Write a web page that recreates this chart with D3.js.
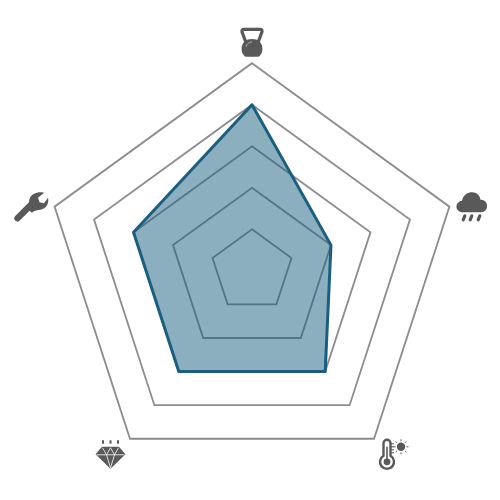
<!DOCTYPE html>
<html><head><meta charset="utf-8">
<style>html,body{margin:0;padding:0;background:#fff}svg{display:block}</style>
<script src="https://cdn.jsdelivr.net/npm/d3@7"></script></head>
<body><svg id="c" width="500" height="500"></svg>
<script>
const categories = ["Strength","Weather","Temperature","Gems","Tools"];
const values = [4,2,3,3,3];
const gridLevels = [1,2,3,4,5];

const svg = d3.select("#c");
const g = svg.append("g").attr("transform","translate(252,270.8)");
const r = d3.scaleLinear().domain([0,5]).range([0,207.6]);
const angle = d3.scaleLinear().domain([0,categories.length]).range([0,2*Math.PI]);
const radar = d3.lineRadial().curve(d3.curveLinearClosed);

g.selectAll("path.grid").data(gridLevels).join("path").attr("class","grid")
  .attr("d",l=>radar(categories.map((c,i)=>[angle(i),r(l)])))
  .attr("fill","none").attr("stroke","#8c8c8c").attr("stroke-width",1.8);

g.append("path").attr("class","area")
  .attr("d",radar(values.map((v,i)=>[angle(i),r(v)])))
  .attr("fill","#1a5f82").attr("fill-opacity",0.5)
  .attr("stroke","#1a5f82").attr("stroke-width",3).attr("stroke-linejoin","round");

const ink="#595959";
const icons = [
 s=>{ // kettlebell
  s.append("path").attr("d","M-6,1 L-10,-10 Q-10.5,-12.5 -8,-12.5 L8,-12.5 Q10.5,-12.5 10,-10 L6,1").attr("fill","none").attr("stroke",ink).attr("stroke-width",3.2);
  s.append("path").attr("d","M-6.5,15 C-12,12 -12,1 -5,-2 C-2,-3.2 2,-3.2 5,-2 C12,1 12,12 6.5,15 Z").attr("fill",ink);
  s.append("path").attr("d","M-6,5 C-5.5,2 -3,0.5 0,0").attr("fill","none").attr("stroke","#b0b0b0").attr("stroke-width",1);
 },
 s=>{ // rain cloud
  s.append("path").attr("d","M-9,5.5 C-17.5,5.5 -17.5,-5 -10,-6 C-9,-12 -4,-14.5 0,-14.5 C5,-14.5 8,-11 8.5,-7 C17,-7.5 17.5,5.5 9,5.5 Z").attr("fill",ink);
  [-8,-1,7].forEach(x=>s.append("path").attr("d",`M${x+.8},9 L${x-.8},13`).attr("stroke",ink).attr("stroke-width",3.2).attr("stroke-linecap","round"));
 },
 s=>{ // thermometer + sun
  s.append("path").attr("d","M-3.5,4 L-3.5,-8.5 A3.5,3.5 0 0 1 3.5,-8.5 L3.5,4 A7,7 0 1 1 -3.5,4 Z").attr("fill","#fff").attr("stroke",ink).attr("stroke-width",2.4);
  s.append("circle").attr("cx",0).attr("cy",10).attr("r",3.4).attr("fill",ink);
  s.append("path").attr("d","M0,10 L0,-5").attr("stroke",ink).attr("stroke-width",1.6);
  [-8,-5,-2,1].forEach(y=>s.append("path").attr("d",`M4,${y} h3`).attr("stroke",ink).attr("stroke-width",1));
  s.append("circle").attr("cx",14).attr("cy",-5).attr("r",4.2).attr("fill",ink);
  d3.range(8).forEach(i=>{const a=i*Math.PI/4;
   s.append("path").attr("d",`M${14+5.5*Math.cos(a)},${-5+5.5*Math.sin(a)} L${14+7.5*Math.cos(a)},${-5+7.5*Math.sin(a)}`).attr("stroke",ink).attr("stroke-width",1);});
 },
 s=>{ // diamond
  s.append("path").attr("d","M-8.5,-8 L8.5,-8 L15,-0.5 L0,14 L-15,-0.5 Z").attr("fill",ink);
  s.append("path").attr("d","M-14,0 L14,0 M-8,-7 L-4,0 L0,-7 L4,0 L8,-7 M-4,0 L0,13 L4,0").attr("fill","none").attr("stroke","#fff").attr("stroke-width",.8);
  [-7.5,0,7.5].forEach(x=>s.append("path").attr("d",`M${x},-14.5 v3.4`).attr("stroke",ink).attr("stroke-width",2));
 },
 s=>{ // wrench
  s.append("path").attr("d","M-12.5,12.5 L1,-1").attr("stroke",ink).attr("stroke-width",6.4).attr("stroke-linecap","round");
  s.append("path").attr("d","M-2,4 C0,0 -2,-4 0,-8 C2,-12 8,-14.5 14,-13 L8,-8 L9.5,-3.5 L14,-2.5 L18,-8 C19,-3 17,2 12,3.5 C7,5 5,4 2,7 Z").attr("fill",ink);
 }
];
const iconOffset=[[0,-229],[220,-64],[135,181],[-141.5,184],[-222,-65]];
g.selectAll("g.icon").data(categories).join("g").attr("class","icon")
 .attr("transform",(c,i)=>`translate(${iconOffset[i][0]},${iconOffset[i][1]})`)
 .each(function(c,i){icons[i](d3.select(this));});
</script></body></html>
